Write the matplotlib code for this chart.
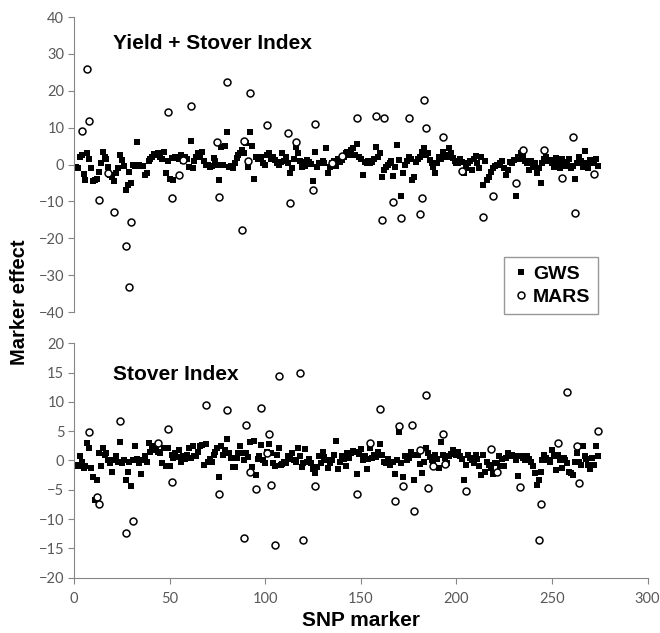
import matplotlib
matplotlib.use('agg')
import matplotlib.pyplot as plt
import numpy as np

# SNP marker index for the GWS series (one effect per marker)
snp = np.arange(1, 275)

# Yield + Stover Index, GWS marker effects
gws_ysi = [
    -0.8, -1.0, 2.0, 2.5, -2.5, -4.2, 3.0, 1.5, -1.0, -4.5,
    -4.2, -4.0, -2.0, 0.5, 3.5, 2.0, 1.6, -0.6, -2.8, -3.5,
    -4.6, -2.4, -1.0, 2.6, 1.2, -0.5, -7.0, -5.5, -2.0, -5.0,
    0.0, -0.5, 6.0, 0.0, -0.3, -0.3, -2.8, -2.4, 1.0, 1.5,
    2.1, 2.8, 2.5, 3.2, 2.1, 1.5, 3.5, -2.4, 1.0, -3.8,
    1.7, -4.2, 2.1, 1.8, 1.5, 2.6, 1.0, 2.1, 1.5, -0.6,
    6.4, -1.0, 1.0, 2.1, 3.0, 2.0, 3.5, 1.0, 0.0, -0.2,
    -0.6, -0.3, 1.7, 1.0, 0.0, -4.2, 4.8, 0.0, 5.0, 8.9,
    -0.6, -0.4, -1.0, 0.5, 1.7, 2.5, 3.0, 3.9, 3.2, 5.7,
    -0.6, 8.9, 5.0, -3.8, 2.1, 1.5, 1.7, 2.0, 0.3, 0.0,
    2.6, 3.0, 1.5, 2.1, 1.2, 0.5, -0.1, 0.8, 3.0, 1.0,
    2.1, 0.5, -2.4, -1.0, 1.5, 4.8, 3.0, 1.0, -0.6, 0.7,
    -0.5, 1.2, 0.8, 0.2, -4.6, 3.5, -0.6, 0.5, 0.3, 1.0,
    0.4, 4.4, -2.4, -0.6, 0.5, 1.0, -0.4, 1.5, 0.8, 1.2,
    2.0, 3.0, 3.5, 2.5, 4.0, 4.4, 2.5, 5.6, 2.1, 1.5,
    -2.8, 0.8, 0.3, 1.0, 0.5, 0.8, 1.5, 4.8, 2.0, 3.0,
    -3.5, -1.5, -0.6, 0.0, 0.3, 1.0, -3.2, -0.6, 5.3, 1.2,
    -8.5, -2.4, -0.1, 1.0, 2.1, 1.5, -4.2, -3.3, 0.8, 1.5,
    2.1, 3.5, 4.4, 2.6, 3.0, 1.2, 0.5, -0.6, -2.4, 0.5,
    2.1, 1.5, 3.5, 2.5, 2.1, 4.4, 3.0, 1.7, 1.0, 0.3,
    0.5, 1.5, 0.8, -2.4, -1.0, 0.3, 1.0, -1.5, 1.5, 2.3,
    0.5, -1.0, 2.1, -5.5, 1.0, -4.2, -3.3, -2.0, -1.0, -0.5,
    -0.1, 0.0, 0.5, 1.0, -1.0, -2.8, -1.5, 0.8, 0.5, 1.2,
    -8.5, 2.1, 1.5, 3.0, 2.5, 1.0, 0.3, -1.5, 1.0, -0.6,
    0.5, -2.4, -1.0, -4.9, 0.3, 1.5, 2.1, 1.0, 1.2, 0.5,
    -0.6, 1.7, 0.5, -1.0, 1.5, 0.3, -0.5, 0.8, 1.5, -1.0,
    -0.5, -3.8, 0.5, 2.1, 1.0, -0.6, 3.8, 0.3, -1.0, 1.2,
    0.5, 0.8, 1.5, -0.5,
]

# Yield + Stover Index, MARS marker effects
mars_ysi_x = [4, 7, 8, 13, 18, 21, 27, 29, 30, 49, 51, 55, 57, 61, 75, 76,
              80, 88, 89, 91, 92, 101, 112, 113, 116, 125, 126, 135, 140,
              148, 158, 161, 162, 167, 171, 175, 181, 182, 183, 184, 193,
              203, 214, 219, 231, 235, 246, 255, 261, 262, 272]
mars_ysi = [9.0, 26.0, 11.8, -9.5, -2.4, -12.8, -22.0, -33.3, -15.6, 14.3,
            -9.2, -2.8, 1.2, 16.0, 6.0, -8.9, 22.3, -17.8, 6.4, 1.0, 19.4,
            10.6, 8.5, -10.4, 6.0, -6.9, 11.0, 0.3, 2.2, 12.5, 13.1, -15.0,
            12.5, -10.2, -14.4, 12.5, -13.3, -9.2, 17.6, 9.8, 7.4, -1.8,
            -14.3, -8.5, -5.1, 3.9, 3.9, -3.7, 7.4, -13.1, -2.6]

# Stover Index, GWS marker effects
gws_si = [
    -0.8, -1.0, 0.7, -0.2, -1.2, -1.0, 2.9, 2.2, -1.3, -2.8,
    -6.8, -3.3, 1.2, -1.0, 2.1, 0.9, 1.2, 0.1, -0.5, -1.9,
    0.1, 0.7, -0.3, 3.2, -0.5, 0.1, -3.3, -1.9, -0.3, -4.3,
    0.1, 2.4, 0.2, -0.5, -2.3, 0.1, 0.7, -0.2, 2.9, 1.5,
    1.9, 2.4, 1.8, 1.5, 1.2, -0.4, 2.1, -0.9, 2.1, -1.0,
    1.0, 0.4, 1.2, 0.6, 1.8, -0.2, 0.7, 0.3, 0.9, 2.1,
    0.5, 2.5, 0.7, 0.7, 1.5, 2.4, 2.6, -0.8, 2.8, -0.2,
    0.2, -0.3, 0.9, 1.5, 2.1, -2.9, 2.5, 0.9, 1.8, 3.6,
    1.2, 0.5, -1.1, -1.1, 0.5, 1.2, 2.4, 1.2, 0.1, 1.2,
    0.6, 3.2, -1.1, 3.4, -2.5, 0.2, 0.7, 2.6, 0.0, -0.5,
    1.5, 2.8, 1.2, -0.5, -0.9, 0.9, 2.2, -0.8, -0.6, -0.2,
    -0.5, 0.7, 0.3, 1.2, 0.1, -0.3, 2.1, 0.7, -1.1, -0.5,
    1.9, -0.2, 0.3, -0.5, -1.5, -2.2, -1.1, 0.7, -0.4, 1.5,
    0.6, 0.1, -1.3, -0.5, 0.1, 1.0, 3.4, -1.5, -0.3, 0.8,
    0.3, -1.0, 1.2, 0.4, 1.3, 1.6, 1.5, -2.3, 1.1, 1.9,
    0.1, 0.8, -1.5, 0.2, 2.1, 0.4, 1.0, 0.6, 1.5, 2.8,
    0.9, -0.3, -0.5, 0.3, -0.8, -0.2, -0.2, -2.3, 0.1, 4.8,
    -0.4, -2.9, 0.7, 0.1, 0.5, 1.5, 1.0, -3.4, 0.9, 0.9,
    -0.6, -2.2, -0.2, 2.1, 1.2, 0.6, 0.1, -0.4, 0.9, 0.3,
    -1.3, 3.2, 0.9, 0.4, -0.5, 0.7, 1.1, 1.8, 1.5, 1.0,
    1.5, 0.7, 0.2, -3.3, -0.8, 0.9, 0.4, 0.1, -0.4, 0.9,
    0.3, -1.0, -2.5, 0.9, -1.9, -0.3, -0.8, -1.2, -2.3, -0.5,
    -0.5, 0.7, -1.0, 0.2, -1.0, 0.4, 1.2, 0.7, 1.0, 0.7,
    0.1, -2.7, 0.7, 0.7, 0.4, 0.1, 0.7, 0.3, -0.2, -1.0,
    -2.2, -4.2, -3.3, -2.0, 0.1, 0.9, 0.5, 0.1, -0.2, 1.8,
    0.7, -1.6, 0.9, 0.1, -1.3, 0.4, 0.1, -0.5, -1.9, -2.2,
    -2.5, -0.3, 1.3, -0.2, -0.8, 2.4, 0.7, 0.3, -0.8, -1.5,
    0.5, -0.8, 2.4, 0.7,
]

# Stover Index, MARS marker effects
mars_si_x = [8, 12, 13, 24, 27, 31, 44, 49, 51, 69, 76, 80, 89, 90, 92, 95,
             98, 101, 102, 103, 105, 107, 118, 120, 126, 148, 155, 160, 168,
             170, 172, 177, 178, 181, 184, 185, 188, 193, 194, 205, 218, 221,
             233, 243, 244, 253, 258, 263, 264, 274]
mars_si = [4.9, -6.3, -7.5, 6.7, -12.3, -10.3, 3.0, 5.3, -3.7, 9.4, -5.8,
           8.6, -13.3, 6.0, -2.0, -4.9, 9.0, 1.2, 4.6, -4.1, -14.5, 14.5,
           14.9, -13.6, -4.3, -5.7, 2.9, 8.7, -7.0, 5.9, -4.4, 6.1, -8.7,
           1.8, 11.1, -4.7, -0.9, 4.5, -0.6, -5.2, 1.9, -2.0, -4.5, -13.5,
           -7.5, 3.0, 11.6, 2.4, -3.9, 5.0]

AXIS_GRAY = '#868686'
TICK_GRAY = '#595959'
TICK_FONT = 'Lato'
BOLD_FONT = 'Liberation Sans'


def style_axis(ax, show_x):
    for s in ['top', 'right']:
        ax.spines[s].set_visible(False)
    ax.spines['left'].set_color(AXIS_GRAY)
    ax.spines['bottom'].set_color(AXIS_GRAY)
    ax.spines['bottom'].set_visible(show_x)
    ax.tick_params(axis='y', direction='out', length=4, color=AXIS_GRAY,
                   labelcolor=TICK_GRAY, labelsize=10.5, pad=3)
    ax.tick_params(axis='x', direction='out', length=4, color=AXIS_GRAY,
                   labelcolor=TICK_GRAY, labelsize=10.5, pad=6,
                   bottom=show_x, labelbottom=show_x)
    for lab in ax.get_xticklabels() + ax.get_yticklabels():
        lab.set_fontfamily(TICK_FONT)


def main():
    fig = plt.figure(figsize=(6.6, 6.33), dpi=100)
    ax1 = fig.add_axes([0.1121, 0.5071, 0.8692, 0.466])
    ax2 = fig.add_axes([0.1121, 0.0874, 0.8692, 0.3703])

    panels = [
        (ax1, gws_ysi, mars_ysi_x, mars_ysi, (-40, 40), np.arange(-40, 41, 10),
         'Yield + Stover Index', 0.91),
        (ax2, gws_si, mars_si_x, mars_si, (-20, 20), np.arange(-20, 21, 5),
         'Stover Index', 0.865),
    ]
    for ax, gws, mx, my, ylim, yticks, title, ty in panels:
        ax.plot(snp, gws, 's', color='black', markersize=4.2,
                markeredgewidth=0, label='GWS', zorder=2)
        ax.plot(mx, my, 'o', markerfacecolor='white', markeredgecolor='black',
                markersize=5.0, markeredgewidth=1.1, label='MARS', zorder=3)
        ax.set_xlim(0, 300)
        ax.set_ylim(*ylim)
        ax.set_yticks(yticks)
        ax.set_xticks(np.arange(0, 301, 50))
        ax.text(0.068, ty, title, transform=ax.transAxes,
                fontsize=15, fontweight='bold', family=BOLD_FONT, color='black',
                va='center', ha='left')

    style_axis(ax1, False)
    style_axis(ax2, True)

    leg = ax1.legend(loc='upper left', bbox_to_anchor=(0.749, 0.186),
                     borderaxespad=0, frameon=True, fancybox=False,
                     handletextpad=0.1, handlelength=1.0, borderpad=0.4,
                     labelspacing=0.3,
                     prop={'family': BOLD_FONT, 'weight': 'bold', 'size': 14})
    leg.get_frame().set_edgecolor('#7f7f7f')
    leg.get_frame().set_linewidth(1.0)

    fig.text(0.03, 0.523, 'Marker effect', rotation=90, ha='center',
             va='center', fontsize=14.5, fontweight='bold', family=BOLD_FONT)
    fig.text(0.547, 0.02, 'SNP marker', ha='center', va='center',
             fontsize=15, fontweight='bold', family=BOLD_FONT)

    fig.savefig('out.png', dpi=100)


if __name__ == '__main__':
    main()
